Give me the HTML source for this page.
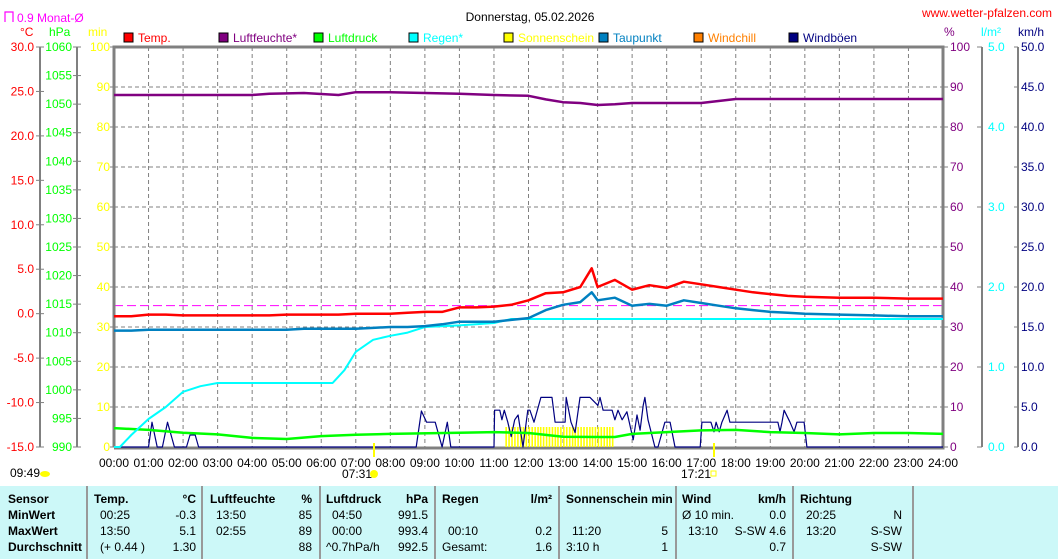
<!DOCTYPE html>
<html><head><meta charset="utf-8"><style>
body{margin:0;background:#fff;width:1058px;height:559px;overflow:hidden;font-family:"Liberation Sans",sans-serif}
svg{display:block}
text{font-family:"Liberation Sans",sans-serif;font-size:12px}
</style></head><body>
<svg id="c" width="1058" height="559">
<rect x="0" y="486" width="1058" height="73" fill="#ccf8f8"/>
<text x="530" y="21" font-size="15" text-anchor="middle" fill="#000">Donnerstag, 05.02.2026</text>
<text x="1052" y="17" font-size="11" text-anchor="end" fill="#ff0000">www.wetter-pfalzen.com</text>
<path d="M5,22 V12 H13 V22" fill="none" stroke="#ff00ff" stroke-width="1.2"/>
<text x="17" y="22" fill="#ff00ff">0.9 Monat-Ø</text>
<text x="20" y="36" fill="#ff0000">°C</text>
<text x="49" y="36" fill="#00ff00">hPa</text>
<text x="88" y="36" fill="#ffff00">min</text>
<text x="944" y="36" fill="#800080">%</text>
<text x="981" y="36" fill="#00ffff">l/m²</text>
<text x="1018" y="36" fill="#000080">km/h</text>
<g id="grid"></g><g id="axes"></g><g id="legend"></g><g id="marks"></g>
<text x="10" y="477" font-size="11">09:49</text>
<ellipse cx="45" cy="474" rx="5" ry="3" fill="#ffff00"/>
<line x1="374" y1="443" x2="374" y2="457" stroke="#ffff00" stroke-width="2"/>
<text x="342" y="478">07:31</text>
<circle cx="374" cy="474" r="4" fill="#ffff00"/>
<line x1="714" y1="443" x2="714" y2="457" stroke="#ffff00" stroke-width="2"/>
<text x="681" y="478">17:21</text>
<rect x="711" y="471" width="5" height="5" fill="none" stroke="#ffff00"/>
<g id="table" font-size="11"></g>
</svg>
<script>
const NS="http://www.w3.org/2000/svg";
function mk(tag,attrs,parent,txt){const e=document.createElementNS(NS,tag);for(const k in attrs)e.setAttribute(k,attrs[k]);if(txt!==undefined)e.textContent=txt;parent.appendChild(e);return e;}
const X0=114,X1=943,Y0=447,Y1=47;
const hx=h=>X0+(X1-X0)*h/24;
const yT=t=>Y0-(t+15)/45*400, yP=p=>Y0-(p-990)/70*400, yM=v=>Y0-v*4, yH=v=>Y0-v*4, yR=v=>Y0-v*80, yW=v=>Y0-v*8;

// ---- data ----
const tempTimes=[0,0.5,1,1.5,2,2.5,3,3.5,4,4.5,5,5.5,6,6.5,7,7.5,8,8.5,9,9.5,10,10.5,11,11.5,12,12.5,13,13.5,13.83,14,14.5,15,15.5,16,16.5,17,17.5,18,18.5,19,19.5,20,21,22,23,24];
const tempVals=[-0.3,-0.3,-0.1,-0.1,-0.2,-0.2,-0.2,-0.2,-0.2,-0.2,-0.1,-0.1,-0.1,-0.1,0.0,0.0,0.0,0.1,0.2,0.2,0.7,0.7,0.8,1.0,1.5,2.3,2.4,3.0,5.1,3.0,3.8,2.7,3.2,2.9,3.6,3.3,3.0,2.7,2.4,2.2,2.0,1.9,1.8,1.8,1.7,1.7];
const dewVals=[-1.9,-1.9,-1.8,-1.8,-1.8,-1.8,-1.8,-1.8,-1.8,-1.8,-1.8,-1.7,-1.7,-1.7,-1.7,-1.6,-1.5,-1.5,-1.4,-1.2,-0.9,-0.9,-0.9,-0.7,-0.5,0.4,1.0,1.3,2.4,1.5,1.8,0.9,1.1,0.9,1.5,1.2,0.9,0.6,0.4,0.2,0.1,0.0,-0.1,-0.2,-0.3,-0.3];
const humTimes=[0,4,4.5,5.5,6.5,7,8,9,10,11,12,12.5,13,13.5,14,14.5,15,17,17.5,18,24];
const humVals=[88,88,88.3,88.5,88,88.7,88.7,88.5,88.3,88,87.8,86.9,86.2,86,85.5,85.7,86,86,86.5,87,87];
const presTimes=[0,1,2,3,4,5,6,7,8,10,11,12,13,14,14.5,15,16,17,18,19,20,21,22,23,24];
const presVals=[993.3,993.0,992.5,992.2,991.6,991.4,991.9,992.15,992.3,992.5,992.6,992.45,991.8,991.75,991.75,992.3,992.6,992.9,993.0,992.6,992.45,992.2,992.45,992.45,992.3];
const rainTimes=[0,0.17,0.5,1,1.5,2,2.5,3,6.33,6.67,7,7.5,8,8.5,9,10,11,11.5,24];
const rainVals=[0,0,0.15,0.35,0.5,0.69,0.76,0.8,0.8,0.96,1.19,1.34,1.39,1.43,1.5,1.52,1.55,1.6,1.6];
const gustTimes=[0,1.0,1.1,1.25,1.4,1.55,1.75,2.1,2.2,2.35,2.45,8.75,8.9,9.05,9.3,9.5,9.65,9.75,11.0,11.02,11.17,11.23,11.3,11.4,11.5,11.6,11.7,11.84,11.98,12.04,12.16,12.36,12.68,12.77,13.06,13.09,13.23,13.35,13.49,13.78,14.01,14.07,14.16,14.42,14.5,14.59,14.71,14.85,15.03,15.14,15.23,15.32,15.37,15.46,15.66,15.75,15.95,16.1,16.24,16.97,17.02,17.28,17.37,17.43,17.52,17.6,17.75,17.83,19.22,19.28,19.34,19.4,19.57,19.69,19.77,19.98,20.06,24];
const gustVals=[0,0,3.1,0,0,3.1,0,0,1.5,1.5,0,0,4.5,3.1,3.1,0,3.1,0,0,4.6,4.6,3.4,4.6,3.1,1.3,3.4,4.0,0,4.6,4.6,3.1,6.2,6.2,3.1,3.1,6.2,3.1,1.8,6.2,6.2,5.2,6.2,4.6,4.6,3.4,4.6,3.4,4.4,0.9,4.0,2.1,5.2,6.2,3.4,0,0,3.1,3.1,0,0,3.1,3.1,1.9,3.1,1.9,3.1,4.6,3.1,3.1,1.9,3.1,4.6,3.1,1.9,3.1,3.1,0,0];
const sunStart=[11.33,11.5,11.67,11.83,12,12.17,12.33,12.5,12.67,12.83,13,13.17,13.33,13.5,13.67,13.83,14,14.17,14.33];
const sunMin=[5,5,5,5,5,5,5,5,5,5,5,5,5,5,5,5,5,5,5];
const monthAvg=0.9;

// ---- grid ----
const grid=document.getElementById('grid');
for(let k=1;k<10;k++){const l=mk('line',{x1:X0,x2:X1,y1:Y1+40*k,y2:Y1+40*k,stroke:'#808080','stroke-dasharray':'4,3'},grid);

}
for(let h=1;h<24;h++){const l=mk('line',{x1:hx(h),x2:hx(h),y1:Y1,y2:Y0,stroke:'#808080','stroke-dasharray':'4,3'},grid);

}
const ma=mk('line',{x1:X0,x2:X1,y1:yT(monthAvg),y2:yT(monthAvg),stroke:'#ff00ff','stroke-dasharray':'9,4'},grid);



// ---- axes ----
const ax=document.getElementById('axes');
const frame=mk('path',{d:`M${X0},${Y0} V${Y1} H${X1} V${Y0+1} H${X0}`,fill:'none',stroke:'#808080','stroke-width':3},ax);


function vaxis(x,name){const l=mk('line',{x1:x,x2:x,y1:Y1,y2:Y0,stroke:'#808080','stroke-width':2},ax);}
vaxis(40,'temp-axis');vaxis(77,'pressure-axis');vaxis(982,'rain-axis');vaxis(1018,'wind-axis');
for(let t=-15;t<=30;t+=5){const y=yT(t);mk('line',{x1:36,x2:44,y1:y,y2:y,stroke:'#808080'},ax);
const tx=mk('text',{x:34,y:y+4,'text-anchor':'end',fill:'#ff0000'},ax,t.toFixed(1));

}
for(let p=990;p<=1060;p+=5){const y=yP(p);mk('line',{x1:73,x2:81,y1:y,y2:y,stroke:'#808080'},ax);
const tx=mk('text',{x:72,y:y+4,'text-anchor':'end',fill:'#00ff00'},ax,String(p));

}
for(let m=0;m<=100;m+=10){const y=yM(m);mk('line',{x1:X0-4,x2:X0,y1:y,y2:y,stroke:'#808080'},ax);
const tx=mk('text',{x:110,y:y+4,'text-anchor':'end',fill:'#ffff00'},ax,String(m));

}
for(let m=0;m<=100;m+=10){const y=yH(m);mk('line',{x1:X1,x2:X1+5,y1:y,y2:y,stroke:'#808080'},ax);
const tx=mk('text',{x:950,y:y+4,fill:'#800080'},ax,String(m));

}
for(let r=0;r<=5;r+=1){const y=yR(r);mk('line',{x1:977,x2:982,y1:y,y2:y,stroke:'#808080'},ax);
const tx=mk('text',{x:988,y:y+4,fill:'#00ffff'},ax,r.toFixed(1));

}
for(let w=0;w<=50;w+=5){const y=yW(w);mk('line',{x1:1014,x2:1018,y1:y,y2:y,stroke:'#808080'},ax);
const tx=mk('text',{x:1021,y:y+4,fill:'#000080'},ax,w.toFixed(1));

}
for(let h=0;h<=24;h++){const tx=mk('text',{x:hx(h),y:467,'text-anchor':'middle',fill:'#000'},ax,String(h).padStart(2,'0')+':00');

}

// ---- legend ----
const lg=document.getElementById('legend');
const legNames=['Temp.','Luftfeuchte*','Luftdruck','Regen*','Sonnenschein','Taupunkt','Windchill','Windböen'];
const legCols=['#ff0000','#800080','#00ff00','#00ffff','#ffff00','#0080c0','#ff8000','#000080'];
legNames.forEach((n,i)=>{const x=124+95*i;
const r=mk('rect',{x:x,y:33,width:9,height:9,fill:legCols[i],stroke:'#000'},lg);


const t=mk('text',{x:x+14,y:42,fill:legCols[i]},lg,n);

});

// ---- marks ----
const mg=document.getElementById('marks');
sunStart.forEach((s,i)=>{for(let k=0;k<2;k++){const x=hx(s)+k*2.9;
const b=mk('rect',{x:x,y:yM(sunMin[i]),width:1.6,height:Y0-yM(sunMin[i]),fill:'#ffff00'},mg);

}});
function line(ts,vs,yf,col,w,name){const pts=ts.map((t,i)=>hx(t).toFixed(1)+','+yf(vs[i]).toFixed(1)).join(' ');
const p=mk('polyline',{points:pts,fill:'none',stroke:col,'stroke-width':w,'stroke-linejoin':'round'},mg);

}
line(gustTimes,gustVals,yW,'#000080',1.2,'wind-gust-line');
line(presTimes,presVals,yP,'#00ff00',2.5,'pressure-line');
line(rainTimes,rainVals,yR,'#00ffff',2,'rain-line');
line(humTimes,humVals,yH,'#800080',2.5,'humidity-line');
line(tempTimes,dewVals,yT,'#0080c0',2.5,'dewpoint-line');
line(tempTimes,tempVals,yT,'#ff0000',2.5,'temperature-line');

// ---- table ----
const tb=document.getElementById('table');
[87,202,320,435,559,676,793,913].forEach(x=>{const l=mk('line',{x1:x,x2:x,y1:486,y2:559,stroke:'#999','stroke-width':2},tb);

});
const rowsY=[503,519,535,551];
const cells=[
[8,0,'start',1,'Sensor'],[8,1,'start',1,'MinWert'],[8,2,'start',1,'MaxWert'],[8,3,'start',1,'Durchschnitt'],
[94,0,'start',1,'Temp.'],[196,0,'end',1,'°C'],[100,1,'start',0,'00:25'],[196,1,'end',0,'-0.3'],[100,2,'start',0,'13:50'],[196,2,'end',0,'5.1'],[100,3,'start',0,'(+ 0.44 )'],[196,3,'end',0,'1.30'],
[210,0,'start',1,'Luftfeuchte'],[312,0,'end',1,'%'],[216,1,'start',0,'13:50'],[312,1,'end',0,'85'],[216,2,'start',0,'02:55'],[312,2,'end',0,'89'],[312,3,'end',0,'88'],
[326,0,'start',1,'Luftdruck'],[428,0,'end',1,'hPa'],[332,1,'start',0,'04:50'],[428,1,'end',0,'991.5'],[332,2,'start',0,'00:00'],[428,2,'end',0,'993.4'],[326,3,'start',0,'^0.7hPa/h'],[428,3,'end',0,'992.5'],
[442,0,'start',1,'Regen'],[552,0,'end',1,'l/m²'],[448,2,'start',0,'00:10'],[552,2,'end',0,'0.2'],[442,3,'start',0,'Gesamt:'],[552,3,'end',0,'1.6'],
[566,0,'start',1,'Sonnenschein min'],[668,0,'end',1,''],[572,2,'start',0,'11:20'],[668,2,'end',0,'5'],[566,3,'start',0,'3:10 h'],[668,3,'end',0,'1'],
[682,0,'start',1,'Wind'],[786,0,'end',1,'km/h'],[682,1,'start',0,'Ø 10 min.'],[786,1,'end',0,'0.0'],[688,2,'start',0,'13:10'],[786,2,'end',0,'S-SW 4.6'],[786,3,'end',0,'0.7'],
[800,0,'start',1,'Richtung'],[806,1,'start',0,'20:25'],[902,1,'end',0,'N'],[806,2,'start',0,'13:20'],[902,2,'end',0,'S-SW'],[902,3,'end',0,'S-SW']];
cells.forEach(c=>{const t=mk('text',{x:c[0],y:rowsY[c[1]],'text-anchor':c[2],'font-weight':c[3]?'bold':'normal','font-size':'11'},tb,c[4]);

});
</script>
</body></html>
